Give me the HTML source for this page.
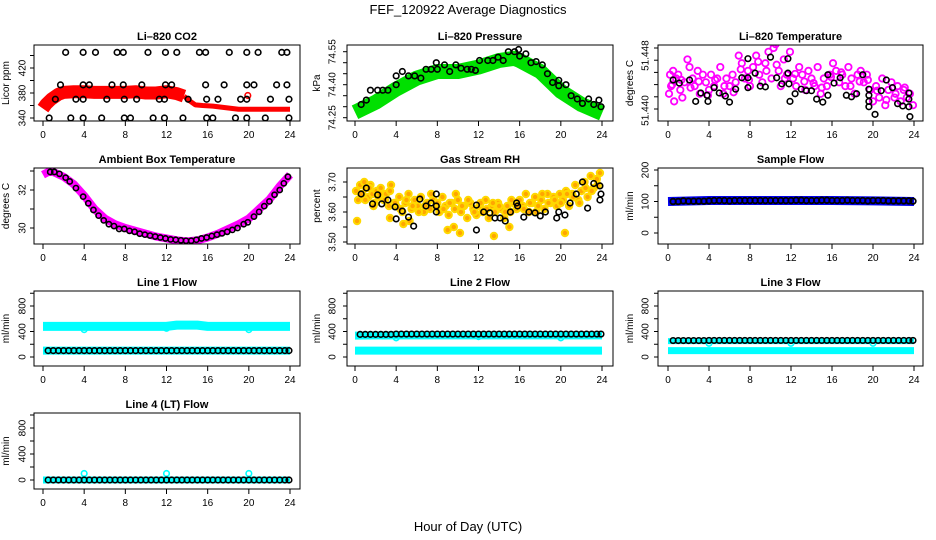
<!DOCTYPE html>
<html><head><meta charset="utf-8">
<style>
html,body{margin:0;padding:0;background:#fff;}
svg{display:block;font-family:"Liberation Sans",sans-serif;}
.ttl{font-weight:bold;font-size:11px;}
.tk{font-size:10px;}
</style></head>
<body>
<svg id="chart" width="936" height="540" viewBox="0 0 936 540">
<text x="468" y="14" text-anchor="middle" font-size="13">FEF_120922  Average Diagnostics</text>
<text x="468" y="531" text-anchor="middle" font-size="13">Hour of Day (UTC)</text>
</svg>
<script>
// ---------- data ----------
const xTicks=[0,4,8,12,16,20,24];
// CO2
const co2BandH=[0,0.3,0.8,1.5,2,3,4,5,6,7,8,9,10,11,12,13,13.7,14.2,14.8,15.5,16.5,17.5,19,21,24];
const co2BandV=[355,362,370,378,381,382,382,381,381,381,381,382,380,380,382,379,375,368,361,360,359,357,354,354,354];
const co2TopH=[2.2,3.9,5.1,7.2,7.8,10.2,11.9,13.0,15.2,15.8,18.1,19.8,20.9,23.2,23.7];
const co2HighH=[1.7,3.9,4.5,6.7,7.8,9.6,11.9,12.5,15.8,17.6,19.8,20.5,22.7,23.7];
const co2MidH=[1.2,3.2,3.9,6.2,7.9,9.1,11.3,11.8,14.1,15.9,17.0,19.2,19.8,22.1,23.9];
const co2LowH=[0.6,2.7,3.9,5.7,7.9,8.5,10.7,11.8,13.6,15.9,16.5,18.7,19.8,21.6,23.9];
const co2Levels=[445,393,370,340];
// Pressure
const presBandH=[0,2,4,6,8,10,12,14,15.5,16,18,20,22,24];
const presBandV=[74.275,74.32,74.38,74.43,74.46,74.46,74.48,74.51,74.52,74.51,74.46,74.37,74.31,74.27];
const presPtH=[0.6,1.1,1.5,2.2,2.7,3.2,4.0,4.0,4.6,5.2,5.8,6.4,6.9,7.4,7.9,8.0,8.7,9.2,9.8,10.3,10.9,11.3,11.7,12.1,12.9,13.4,13.9,14.4,14.9,15.5,15.9,16.0,16.6,17.1,17.6,18.2,18.7,19.2,19.8,19.8,20.5,21.0,21.6,22.1,22.7,23.2,23.7,23.9];
const presPtV=[74.31,74.33,74.375,74.375,74.375,74.375,74.40,74.44,74.46,74.44,74.44,74.43,74.47,74.47,74.50,74.47,74.49,74.46,74.49,74.475,74.47,74.47,74.465,74.51,74.51,74.51,74.525,74.51,74.55,74.55,74.56,74.53,74.54,74.50,74.505,74.49,74.45,74.41,74.42,74.395,74.40,74.35,74.335,74.315,74.335,74.31,74.33,74.30];
// Li-820 temperature
const tempPinkH=[0.1,0.2,0.3,0.5,0.6,0.8,1.0,1.2,1.4,1.6,1.9,2.1,2.4,2.6,2.9,3.1,3.4,3.7,4.0,4.2,4.5,4.8,5.1,5.4,5.7,6.0,6.3,6.6,6.9,7.2,7.5,7.8,8.0,8.3,8.6,8.9,9.2,9.5,9.8,10.1,10.3,10.5,10.8,11.0,11.3,11.6,11.9,12.2,12.5,12.8,13.1,13.4,13.7,14.0,14.3,14.6,14.9,15.2,15.5,15.8,16.1,16.4,16.7,17.0,17.3,17.6,17.9,18.2,18.5,18.8,19.1,19.4,19.7,20.0,20.3,20.6,20.9,21.2,21.5,21.8,22.1,22.4,22.7,23.0,23.3,23.6,23.9,0.4,1.3,2.2,3.0,3.9,4.6,5.5,6.4,7.1,7.9,8.8,9.6,10.6,11.4,12.4,13.3,14.2,15.0,15.9,16.9,17.8,18.7,19.5,20.4,21.3,22.2,23.1];
const tempPinkV=[51.4420,51.4445,51.4430,51.4450,51.4410,51.4440,51.4445,51.4425,51.4415,51.4435,51.4465,51.4455,51.4440,51.4430,51.4450,51.4420,51.4445,51.4435,51.4425,51.4445,51.4430,51.4440,51.4455,51.4420,51.4440,51.4430,51.4445,51.4435,51.4470,51.4460,51.4440,51.4450,51.4430,51.4455,51.4470,51.4445,51.4435,51.4460,51.4475,51.4440,51.4480,51.4485,51.4450,51.4430,51.4465,51.4445,51.4475,51.4440,51.4430,51.4455,51.4445,51.4425,51.4450,51.4440,51.4430,51.4455,51.4420,51.4440,51.4430,51.4445,51.4460,51.4450,51.4435,51.4445,51.4430,51.4455,51.4440,51.4420,51.4445,51.4450,51.4435,51.4445,51.4425,51.4410,51.4430,51.4415,51.4440,51.4405,51.4425,51.4435,51.4415,51.4430,51.4410,51.4425,51.4415,51.4420,51.4405,51.4432,51.4438,51.4428,51.4436,51.4418,51.4438,51.4430,51.4422,51.4452,51.4438,51.4462,51.4450,51.4458,51.4440,51.4446,51.4436,51.4434,51.4428,51.4442,51.4448,51.4430,51.4436,51.4438,51.4424,51.4412,51.4420,51.4428];
const tempBlkH=[0.5,1.1,2.1,2.7,3.2,3.8,3.9,4.5,5.0,5.6,6.0,6.6,7.2,7.8,7.8,7.8,8.5,9.0,9.5,10.0,10.6,11.1,11.7,11.7,11.8,11.9,12.4,13.0,13.5,14.0,14.5,15.1,15.6,15.6,16.2,16.8,17.4,17.9,18.4,19.0,19.6,19.6,19.6,19.6,20.2,20.8,21.3,21.9,22.4,22.9,23.5,23.5,23.5,23.6];
const tempBlkV=[51.4438,51.4434,51.4438,51.4410,51.4421,51.4418,51.4410,51.4428,51.4421,51.4417,51.4409,51.4426,51.4441,51.4441,51.4466,51.4428,51.4447,51.4430,51.4429,51.4468,51.4441,51.4433,51.4466,51.4447,51.4433,51.4410,51.4420,51.4426,51.4424,51.4424,51.4413,51.4409,51.4445,51.4418,51.4434,51.4441,51.4418,51.4416,51.4420,51.4445,51.4426,51.4418,51.4410,51.4403,51.4393,51.4424,51.4438,51.4428,51.4407,51.4404,51.4421,51.4413,51.4403,51.4390];
// Ambient box temperature
const ambBandH=[0,0.5,1,2,3,4,5,6,7,8,9,10,11,12,13,14,15,16,17,18,19,20,21,22,23,24];
const ambBandV=[32.8,32.95,32.95,32.7,32.3,31.7,31.0,30.5,30.2,30.0,29.85,29.7,29.55,29.45,29.35,29.3,29.35,29.5,29.7,29.95,30.2,30.5,31.0,31.5,32.2,32.8];
const ambPtH=[0.7,1.1,1.6,2.2,2.6,3.2,3.9,4.4,4.9,5.4,5.9,6.4,6.9,7.4,7.9,8.4,8.9,9.4,9.9,10.4,10.9,11.4,11.9,12.4,12.9,13.4,13.9,14.4,14.9,15.4,15.9,16.4,16.9,17.4,17.9,18.4,18.9,19.5,19.9,20.5,21.0,21.5,22.0,22.5,23.0,23.4,23.8];
const ambPtV=[32.95,32.95,32.85,32.65,32.45,32.1,31.65,31.3,30.95,30.65,30.4,30.2,30.1,29.95,29.95,29.85,29.8,29.7,29.65,29.6,29.55,29.5,29.45,29.4,29.38,29.35,29.33,29.33,29.38,29.45,29.5,29.58,29.65,29.72,29.8,29.9,30.0,30.2,30.3,30.6,30.85,31.15,31.4,31.75,32.0,32.35,32.7];
// Gas stream RH
const rhCloudH=[0.1,0.3,0.5,0.7,0.9,1.1,1.3,1.5,1.7,1.9,2.1,2.3,2.5,2.8,3.0,3.3,3.5,3.8,4.0,4.3,4.6,4.9,5.2,5.5,5.8,6.1,6.4,6.7,7.0,7.3,7.6,7.9,8.2,8.5,8.8,9.1,9.4,9.7,10.0,10.3,10.6,10.9,11.2,11.5,11.8,12.1,12.4,12.7,13.0,13.3,13.6,13.9,14.2,14.5,14.8,15.1,15.4,15.7,16.0,16.3,16.6,16.9,17.2,17.5,17.8,18.1,18.4,18.7,19.0,19.3,19.6,19.9,20.2,20.5,20.8,21.1,21.4,21.7,22.0,22.3,22.6,22.9,23.2,23.5,23.8,0.2,0.6,1.0,1.4,1.8,2.4,2.9,3.4,3.9,4.4,5.0,5.6,6.2,6.8,7.4,8.0,8.6,9.2,9.8,10.4,11.0,11.6,12.2,12.8,13.4,14.0,14.6,15.2,15.8,16.4,17.0,17.6,18.2,18.8,19.4,20.0,20.6,21.2,21.8,22.4,23.0,23.6,3.4,4.7,5.3,9.0,9.6,10.2,13.5,15.0,20.4];
const rhCloudV=[3.67,3.64,3.69,3.66,3.70,3.68,3.65,3.69,3.66,3.63,3.67,3.65,3.68,3.64,3.66,3.62,3.69,3.63,3.62,3.65,3.60,3.63,3.66,3.61,3.64,3.62,3.65,3.60,3.63,3.61,3.64,3.62,3.60,3.65,3.62,3.59,3.63,3.61,3.64,3.60,3.62,3.58,3.63,3.61,3.59,3.62,3.60,3.64,3.58,3.62,3.60,3.63,3.61,3.58,3.62,3.60,3.63,3.61,3.64,3.62,3.66,3.60,3.63,3.65,3.62,3.64,3.61,3.66,3.63,3.65,3.62,3.66,3.64,3.67,3.62,3.66,3.69,3.64,3.67,3.70,3.65,3.72,3.68,3.71,3.73,3.57,3.66,3.64,3.68,3.62,3.66,3.64,3.67,3.63,3.61,3.64,3.62,3.60,3.62,3.66,3.63,3.61,3.63,3.66,3.62,3.64,3.60,3.63,3.61,3.63,3.62,3.60,3.64,3.62,3.61,3.63,3.60,3.66,3.63,3.64,3.63,3.66,3.65,3.63,3.68,3.67,3.69,3.58,3.56,3.57,3.54,3.55,3.53,3.52,3.55,3.53];
const rhBlkH=[0.6,1.1,1.7,2.2,2.6,3.2,3.9,4.0,4.6,5.2,5.7,6.3,6.9,7.4,7.9,7.9,7.9,11.8,11.8,12.5,13.1,13.6,14.1,14.6,15.1,15.7,15.8,16.4,16.9,17.5,18.0,18.5,19.6,19.8,20.4,20.9,21.5,22.1,22.6,23.2,23.8,23.9,23.8];
const rhBlkV=[3.66,3.68,3.627,3.657,3.627,3.64,3.617,3.577,3.603,3.583,3.553,3.643,3.62,3.63,3.66,3.62,3.60,3.623,3.54,3.60,3.597,3.58,3.58,3.57,3.60,3.63,3.62,3.583,3.60,3.597,3.587,3.60,3.58,3.60,3.59,3.63,3.66,3.70,3.613,3.695,3.687,3.66,3.64];
// Flows
const flowBandH=[0,4,8,12,13,15,16,20,24];
const flowPtH=[0.5,1.0,1.5,2.0,2.5,3.0,3.5,4.0,4.5,5.0,5.5,6.0,6.5,7.0,7.5,8.0,8.5,9.0,9.5,10.0,10.5,11.0,11.5,12.0,12.5,13.0,13.5,14.0,14.5,15.0,15.5,16.0,16.5,17.0,17.5,18.0,18.5,19.0,19.5,20.0,20.5,21.0,21.5,22.0,22.5,23.0,23.5,23.9];
const sampleBandV=[100,103,103,103,103,103,103,102,100];
const samplePtV=[100,100,102,101,101,101,101,102,103,103,103,102,103,103,103,103,103,103,103,103,103,103,103,103,104,104,103,103,103,104,104,103,103,103,104,103,103,103,102,103,103,103,102,102,102,102,102,101];
const line1BandV=[480,480,480,480,500,500,480,480,480];
const line1LowV=[100,100,100,100,100,100,100,100,100];
const line1PtV=[100,100,100,100,100,100,100,100,100,100,100,100,100,100,100,100,100,100,100,100,100,100,100,100,100,100,100,100,100,100,100,100,100,100,100,100,100,100,100,100,100,100,100,100,100,100,100,100];
const line2BandV=[335,340,340,340,340,340,340,340,340];
const line2LowV=[100,100,100,100,100,100,100,100,100];
const line2PtV=[355,355,355,355,355,355,355,360,360,360,360,360,360,360,360,360,360,360,360,360,360,360,360,360,360,360,360,360,360,360,360,360,360,360,360,360,360,360,360,360,360,360,360,360,360,360,360,360];
const line3BandV=[250,250,250,250,250,250,250,250,250];
const line3LowV=[100,100,100,100,100,100,100,100,100];
const line3PtV=[258,258,258,258,258,258,258,260,260,260,260,260,260,260,260,260,260,260,260,260,260,260,260,260,260,260,260,260,260,260,260,260,260,260,260,260,260,260,260,260,260,260,260,260,260,260,260,260];
const line4BandV=[0,0,0,0,0,0,0,0,0];
const line4PtV=[0,0,0,0,0,0,0,0,0,0,0,0,0,0,0,0,0,0,0,0,0,0,0,0,0,0,0,0,0,0,0,0,0,0,0,0,0,0,0,0,0,0,0,0,0,0,0,0];
const outlierH=[4,12,20];
const line1OutV=[430,450,430];
const line2OutV=[300,320,300];
const line3OutV=[215,215,215];
const line4OutV=[100,100,100];

// ---------- drawing ----------
const NS="http://www.w3.org/2000/svg";
const svg=document.getElementById('chart');
function mk(parent,tag,attrs,name,inter){
  const el=document.createElementNS(NS,tag);
  for(const k in attrs) el.setAttribute(k,attrs[k]);
  
  
  parent.appendChild(el);return el;
}
const cols=[{l:34,r:300,x0:43,x24:290,tl:20,yl:9},{l:347,r:613,x0:355,x24:602,tl:330,yl:320},{l:658,r:923,x0:668,x24:914,tl:643,yl:633}];
const rows=[{t:45,b:121},{t:168,b:244},{t:291,b:366},{t:413,b:489}];
function panel(name,ci,ri,title,ylab,v0,p0,v1,p1,ticks,labels,labelTxt){
  const c=cols[ci],r=rows[ri];
  const g=mk(svg,'g',{},name,false);
  const sx=h=>c.x0+(c.x24-c.x0)*h/24;
  const sy=v=>p0+(p1-p0)*(v-v0)/(v1-v0);
  const clip=mk(g,'clipPath',{id:'clip-'+name},name+'-clip',false);
  mk(clip,'rect',{x:c.l,y:r.t,width:c.r-c.l,height:r.b-r.t},name+'-clip-rect',false);
  const plot=mk(g,'g',{'clip-path':'url(#clip-'+name+')'},name+'-plot-area',false);
  mk(g,'rect',{x:c.l,y:r.t,width:c.r-c.l,height:r.b-r.t,fill:'none',stroke:'#000','stroke-width':1},name+'-frame',false);
  const tt=mk(g,'text',{x:(c.l+c.r)/2,y:r.t-5,'text-anchor':'middle',class:'ttl'},name+'-title',false);tt.textContent=title;
  const yl=mk(g,'text',{x:c.yl,y:(r.t+r.b)/2,'text-anchor':'middle',class:'tk',transform:'rotate(-90 '+c.yl+' '+((r.t+r.b)/2)+')'},name+'-y-title',false);yl.textContent=ylab;
  for(const h of xTicks){
    const x=sx(h);
    mk(g,'line',{x1:x,x2:x,y1:r.b,y2:r.b+5,stroke:'#000'},name+'-x-tick',false);
    const t=mk(g,'text',{x:x,y:r.b+17,'text-anchor':'middle',class:'tk'},name+'-x-tick-label',false);t.textContent=h;
  }
  for(const v of ticks){
    const y=sy(v);
    mk(g,'line',{x1:c.l-4,x2:c.l,y1:y,y2:y,stroke:'#000'},name+'-y-tick',false);
  }
  labels.forEach((v,i)=>{
    const y=sy(v);
    const t=mk(g,'text',{x:c.tl+3,y:y,'text-anchor':'middle','dominant-baseline':'central',class:'tk',transform:'rotate(-90 '+(c.tl+3)+' '+y+')'},name+'-y-tick-label',false);
    t.textContent=labelTxt?labelTxt[i]:v;
  });
  return {plot,sx,sy};
}
function band(P,H,V,color,w,name){
  const pts=H.map((h,i)=>P.sx(h)+','+P.sy(V[i])).join(' ');
  mk(P.plot,'polyline',{points:pts,fill:'none',stroke:color,'stroke-width':w,'stroke-linejoin':'round','stroke-linecap':'butt'},name,false);
}
function pts(P,H,V,color,name,fill,r,sw){
  H.forEach((h,i)=>{
    mk(P.plot,'circle',{cx:P.sx(h),cy:P.sy(V[i]),r:r||2.8,fill:fill||'none',stroke:color,'stroke-width':sw||1.6},name,false);
  });
}
// CO2
const co2Ticks=[340,360,380,400,420,440];
const pC=panel('co2-panel',0,0,'Li\u2013820 CO2','Licor ppm',340,118,420,68,co2Ticks,[340,380,420]);
band(pC,co2BandH.slice(0,17),co2BandV.slice(0,17),'#ff0000',13,'co2-band');
band(pC,co2BandH.slice(16),co2BandV.slice(16),'#ff0000',5,'co2-band-late');
pts(pC,[19.9],[376],'#ff0000','co2-red-point');
pts(pC,co2TopH,co2TopH.map(()=>co2Levels[0]),'#000','co2-point-top');
pts(pC,co2HighH,co2HighH.map(()=>co2Levels[1]),'#000','co2-point-high');
pts(pC,co2MidH,co2MidH.map(()=>co2Levels[2]),'#000','co2-point-mid');
pts(pC,co2LowH,co2LowH.map(()=>co2Levels[3]),'#000','co2-point-low');
// Pressure
const presTicks=[74.25,74.30,74.35,74.40,74.45,74.50,74.55];
const pP=panel('pressure-panel',1,0,'Li\u2013820 Pressure','kPa',74.25,117.7,74.55,51.7,presTicks,[74.25,74.40,74.55],['74.25','74.40','74.55']);
band(pP,presBandH,presBandV,'#00e000',15,'pressure-band');
pts(pP,presPtH,presPtV,'#000','pressure-point');
// Li-820 temp
const tempTicks=[51.440,51.4416,51.4432,51.4448,51.4464,51.448];
const pT=panel('licor-temp-panel',2,0,'Li\u2013820 Temperature','degrees C',51.440,109,51.448,48,tempTicks,[51.4398,51.4470],['51.440','51.448']);
pts(pT,tempPinkH,tempPinkV,'#ff00ff','licor-temp-pink-point',null,3.2,1.8);
pts(pT,tempBlkH,tempBlkV,'#000','licor-temp-point');
// Ambient
const ambTicks=[30,31,32,33];
const pA=panel('ambient-temp-panel',0,1,'Ambient Box Temperature','degrees C',30,228,32,190,ambTicks,[30,32]);
band(pA,ambBandH,ambBandV,'#ff00ff',8,'ambient-band');
pts(pA,ambPtH,ambPtV,'#000','ambient-point',null,2.6,1.6);
// RH
const rhTicks=[3.50,3.55,3.60,3.65,3.70];
const pR=panel('rh-panel',1,1,'Gas Stream RH','percent',3.60,212,3.70,182,rhTicks,[3.50,3.60,3.70],['3.50','3.60','3.70']);
pts(pR,rhCloudH,rhCloudV,'#ffd800','rh-cloud-point','#ffa600',3.2,2);
pts(pR,rhBlkH,rhBlkV,'#000','rh-point');
// Sample flow
const sTicks=[0,50,100,150,200];
const pS=panel('sample-flow-panel',2,1,'Sample Flow','ml/min',0,233,200,170,sTicks,[0,100,200]);
band(pS,flowBandH,sampleBandV,'#0000ee',9,'sample-band');
pts(pS,flowPtH,samplePtV,'#000','sample-point',null,2.8,1.8);
// Line flows
const lTicks=[0,200,400,600,800,1000];
const p1=panel('line1-panel',0,2,'Line 1 Flow','ml/min',0,357,800,306,lTicks,[0,400,800]);
band(p1,flowBandH,line1BandV,'#00ffff',9,'line1-band');
band(p1,flowBandH,line1LowV,'#00ffff',8,'line1-low-band');
pts(p1,outlierH,line1OutV,'#00ffff','line1-outlier');
pts(p1,flowPtH,line1PtV,'#000','line1-point');
const p2=panel('line2-panel',1,2,'Line 2 Flow','ml/min',0,357,800,306,lTicks,[0,400,800]);
band(p2,flowBandH,line2BandV,'#00ffff',8,'line2-band');
band(p2,flowBandH,line2LowV,'#00ffff',8,'line2-low-band');
pts(p2,outlierH,line2OutV,'#00ffff','line2-outlier');
pts(p2,flowPtH,line2PtV,'#000','line2-point');
const p3=panel('line3-panel',2,2,'Line 3 Flow','ml/min',0,357,800,306,lTicks,[0,400,800]);
band(p3,flowBandH,line3BandV,'#00ffff',6,'line3-band');
band(p3,flowBandH,line3LowV,'#00ffff',7,'line3-low-band');
pts(p3,outlierH,line3OutV,'#00ffff','line3-outlier');
pts(p3,flowPtH,line3PtV,'#000','line3-point');
const p4=panel('line4-panel',0,3,'Line 4 (LT) Flow','ml/min',0,480,800,428,lTicks,[0,400,800]);
band(p4,flowBandH,line4BandV,'#00ffff',7,'line4-band');
pts(p4,outlierH,line4OutV,'#00ffff','line4-outlier');
pts(p4,flowPtH,line4PtV,'#000','line4-point');
</script>
</body></html>
